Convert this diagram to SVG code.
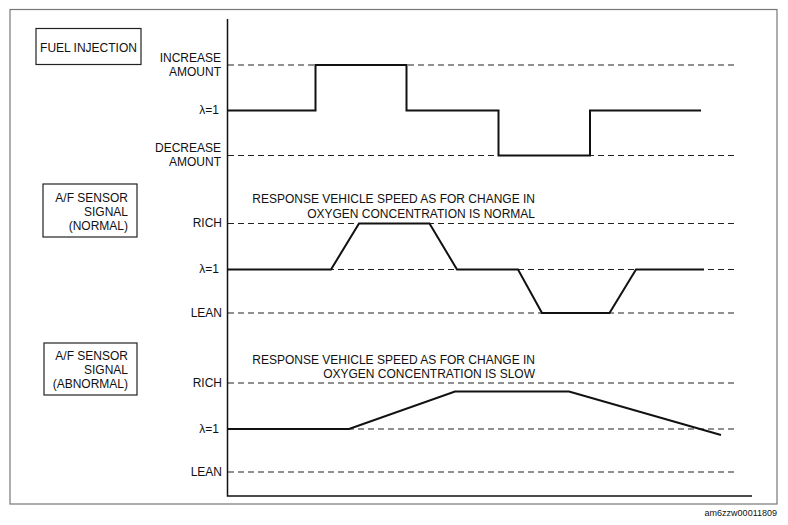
<svg xmlns="http://www.w3.org/2000/svg" width="788" height="525" viewBox="0 0 788 525">
<style>
text{font-family:"Liberation Sans",Arial,sans-serif;font-size:12px;fill:#111}
.r{text-anchor:end}
.box{fill:#fff;stroke:#222;stroke-width:1.2}
.dash{stroke:#222;stroke-width:1.2;stroke-dasharray:6 4;fill:none}
.wave{stroke:#111;stroke-width:2;fill:none;stroke-linejoin:miter}
.axis{stroke:#111;stroke-width:1.5;fill:none}
</style>
<rect x="0" y="0" width="788" height="525" fill="#fff"/>
<rect x="10" y="9.5" width="767" height="494.5" fill="none" stroke="#777" stroke-width="1.2"/>

<g id="label-fuel">
<rect class="box" x="36" y="28.5" width="105" height="36"/>
<text x="88.5" y="52" text-anchor="middle">FUEL INJECTION</text>
</g>
<g id="label-normal">
<rect class="box" x="43" y="184" width="94" height="53"/>
<text class="r" x="128" y="202">A/F SENSOR</text>
<text class="r" x="128" y="216">SIGNAL</text>
<text class="r" x="128" y="230">(NORMAL)</text>
</g>
<g id="label-abnormal">
<rect class="box" x="44" y="343" width="93" height="52"/>
<text class="r" x="128" y="360">A/F SENSOR</text>
<text class="r" x="128" y="374">SIGNAL</text>
<text class="r" x="128" y="388">(ABNORMAL)</text>
</g>

<g id="axis-labels">
<text class="r" x="221" y="62">INCREASE</text>
<text class="r" x="221" y="76">AMOUNT</text>
<text class="r" x="219" y="114">λ=1</text>
<text class="r" x="221" y="152">DECREASE</text>
<text class="r" x="221" y="166">AMOUNT</text>
<text class="r" x="222" y="227">RICH</text>
<text class="r" x="219" y="273">λ=1</text>
<text class="r" x="222" y="317">LEAN</text>
<text class="r" x="222" y="387">RICH</text>
<text class="r" x="219" y="433">λ=1</text>
<text class="r" x="222" y="476">LEAN</text>
</g>

<g id="notes">
<text class="r" x="535" y="203">RESPONSE VEHICLE SPEED AS FOR CHANGE IN</text>
<text class="r" x="535" y="218">OXYGEN CONCENTRATION IS NORMAL</text>
<text class="r" x="535" y="364">RESPONSE VEHICLE SPEED AS FOR CHANGE IN</text>
<text class="r" x="535" y="378">OXYGEN CONCENTRATION IS SLOW</text>
</g>

<g id="connectors">
<path class="axis" d="M227.5 19 V496 H752"/>
<g id="reference-lines">
<line class="dash" x1="228" y1="65" x2="735" y2="65"/>
<line class="dash" x1="228" y1="155.5" x2="735" y2="155.5"/>
<line class="dash" x1="228" y1="223.5" x2="735" y2="223.5"/>
<line class="dash" x1="228" y1="269.5" x2="735" y2="269.5"/>
<line class="dash" x1="228" y1="313" x2="735" y2="313"/>
<line class="dash" x1="228" y1="383" x2="735" y2="383"/>
<line class="dash" x1="228" y1="429" x2="735" y2="429"/>
<line class="dash" x1="228" y1="472" x2="735" y2="472"/>
</g>
<path id="wave-fuel" class="wave" d="M228 110.5 H315.5 V65 H406.5 V110.5 H498.5 V155.5 H590 V110.5 H701"/>
<path id="wave-normal" class="wave" d="M228 269.5 H331 L359 223.5 H429.5 L457 269.5 H518 L542 313 H609.5 L636 269.5 H704"/>
<path id="wave-abnormal" class="wave" d="M228 429 H349 L455 391.5 H569 L721 435"/>
</g>

<text x="777" y="516" text-anchor="end" style="font-size:9px">am6zzw00011809</text>
</svg>
